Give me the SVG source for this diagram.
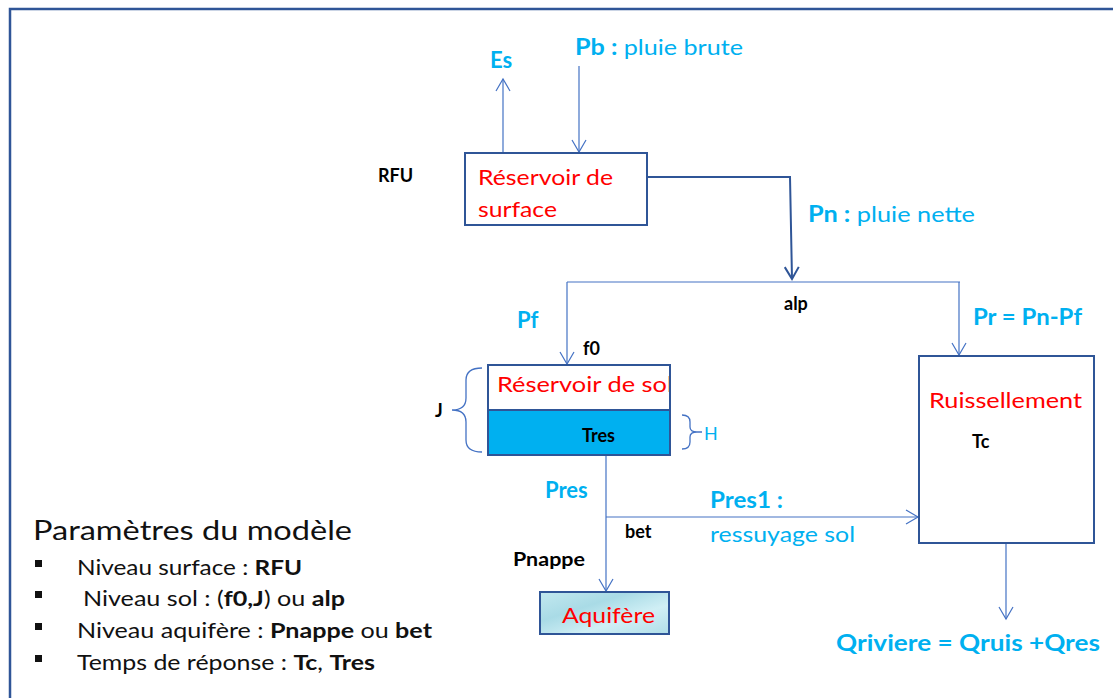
<svg xmlns="http://www.w3.org/2000/svg" width="1113" height="698" viewBox="0 0 1113 698">
<defs>
<style>
text{font-family:Lato,"Open Sans","Liberation Sans",sans-serif}
.cy{fill:#00B0F0;font-size:22px}
.b{font-weight:bold}
.red{fill:#FF0000;font-size:22px}
.blk{fill:#000;font-size:18px;font-weight:bold}
.box{fill:#fff;stroke:#2F5597;stroke-width:2}
.ln{fill:none;stroke:#4472C4;stroke-width:1.2}
.thick{fill:none;stroke:#2F5597;stroke-width:2}
.brace{fill:none;stroke:#4472C4;stroke-width:1.3}
.leg{fill:#111;font-size:21px}
</style>
<marker id="ah" viewBox="-14 -8 15 16" markerWidth="15" markerHeight="16" refX="0" refY="0" orient="auto" markerUnits="userSpaceOnUse" overflow="visible">
<path d="M-12,-7 L0,0 L-12,7" fill="none" stroke="#4472C4" stroke-width="1.2"/>
</marker>
<marker id="ahT" viewBox="-14 -8 15 16" markerWidth="15" markerHeight="16" refX="0" refY="0" orient="auto" markerUnits="userSpaceOnUse" overflow="visible">
<path d="M-12,-7 L0,0 L-12,7" fill="none" stroke="#2F5597" stroke-width="2"/>
</marker>
<linearGradient id="aq" x1="0" y1="0" x2="1" y2="1">
<stop offset="0" stop-color="#c2e8ef"/>
<stop offset="0.35" stop-color="#a9dbe6"/>
<stop offset="0.65" stop-color="#d0eff5"/>
<stop offset="1" stop-color="#b0dee8"/>
</linearGradient>
<clipPath id="solclip"><rect x="488" y="365" width="182" height="45"/></clipPath>
</defs>
<rect width="1113" height="698" fill="#fff"/>
<path d="M10,700 L10,9 L1115,9" fill="none" stroke="#2F5597" stroke-width="2.5"/>

<g id="connectors">
<line class="ln" x1="503" y1="153" x2="503" y2="79" marker-end="url(#ah)"/>
<line class="ln" x1="579" y1="66" x2="579" y2="152" marker-end="url(#ah)"/>
<polyline class="thick" points="647,177 790,177 792,279" marker-end="url(#ahT)"/>
<line class="ln" x1="567" y1="282" x2="960" y2="282"/>
<line class="ln" x1="567" y1="282" x2="567" y2="364" marker-end="url(#ah)"/>
<line class="ln" x1="959" y1="282" x2="959" y2="355" marker-end="url(#ah)"/>
<line class="ln" x1="606" y1="455" x2="606" y2="591" marker-end="url(#ah)"/>
<line class="ln" x1="606" y1="517" x2="918" y2="517" marker-end="url(#ah)"/>
<line class="ln" x1="1006" y1="543" x2="1006" y2="619" marker-end="url(#ah)"/>
</g>

<g id="labels">
<text class="cy b" x="490" y="68">Es</text>
<text class="cy" x="575" y="55" textLength="168" lengthAdjust="spacingAndGlyphs"><tspan class="b">Pb :</tspan> pluie brute</text>
<text class="blk" x="378" y="182">RFU</text>
<text class="cy" x="808" y="222" textLength="167" lengthAdjust="spacingAndGlyphs"><tspan class="b">Pn :</tspan> pluie nette</text>
<text class="blk" x="784" y="310">alp</text>
<text class="cy b" x="517" y="328">Pf</text>
<text class="cy b" x="973" y="325" textLength="109" lengthAdjust="spacingAndGlyphs">Pr = Pn-Pf</text>
<text class="blk" x="583" y="355">f0</text>
<text class="blk" x="435" y="417">J</text>
<text class="cy" x="704" y="440" style="font-size:18px">H</text>
<text class="cy b" x="545" y="498">Pres</text>
<text class="blk" x="625" y="538">bet</text>
<text class="blk" x="513" y="566" textLength="72" lengthAdjust="spacingAndGlyphs">Pnappe</text>
<text class="cy b" x="710" y="508" textLength="73" lengthAdjust="spacingAndGlyphs">Pres1 :</text>
<text class="cy" x="710" y="542" textLength="145" lengthAdjust="spacingAndGlyphs">ressuyage sol</text>
<text class="cy b" x="836" y="651" textLength="264" lengthAdjust="spacingAndGlyphs">Qriviere = Qruis +Qres</text>
</g>

<g id="reservoir-surface">
<rect class="box" x="465" y="153" width="182" height="72"/>
<text class="red" x="478" y="185" textLength="135" lengthAdjust="spacingAndGlyphs">Réservoir de</text>
<text class="red" x="478" y="217" textLength="79" lengthAdjust="spacingAndGlyphs">surface</text>
</g>

<g id="reservoir-sol">
<rect x="488" y="365" width="182" height="45" fill="#fff"/>
<rect x="488" y="410" width="182" height="45" fill="#00B0F0"/>
<text class="red" x="497" y="392" clip-path="url(#solclip)" textLength="176" lengthAdjust="spacingAndGlyphs">Réservoir de sol</text>
<text class="blk" x="582" y="442">Tres</text>
<rect x="488" y="365" width="182" height="90" fill="none" stroke="#2F5597" stroke-width="2"/>
<line x1="488" y1="410" x2="670" y2="410" stroke="#2F5597" stroke-width="2"/>
<path class="brace" d="M482,368 Q466,368 466,380 L466,398 Q466,410 452,410 Q466,410 466,422 L466,440 Q466,452 482,452"/>
<path class="brace" d="M682,415 Q690,415 690,422 L690,427 Q690,432 697,432 L702,432 M697,432 Q690,432 690,437 L690,442 Q690,449 682,449"/>
</g>

<g id="aquifere">
<rect x="540" y="592" width="129" height="42" fill="url(#aq)" stroke="#2F5597" stroke-width="2"/>
<text class="red" x="562" y="623" textLength="93" lengthAdjust="spacingAndGlyphs">Aquifère</text>
</g>

<g id="ruissellement">
<rect class="box" x="919" y="356" width="175" height="187"/>
<text class="red" x="929" y="408" textLength="153" lengthAdjust="spacingAndGlyphs">Ruissellement</text>
<text class="blk" x="972" y="448">Tc</text>
</g>

<g id="legende">
<text x="33" y="540" style="font-size:27px;fill:#111" textLength="319" lengthAdjust="spacingAndGlyphs">Paramètres du modèle</text>
<rect x="35" y="560" width="7" height="7" fill="#111"/>
<rect x="35" y="591" width="7" height="7" fill="#111"/>
<rect x="35" y="623" width="7" height="7" fill="#111"/>
<rect x="35" y="655" width="7" height="7" fill="#111"/>
<text class="leg" x="77" y="575" textLength="225" lengthAdjust="spacingAndGlyphs">Niveau surface : <tspan class="b">RFU</tspan></text>
<text class="leg" x="83" y="606" textLength="262" lengthAdjust="spacingAndGlyphs">Niveau sol : (<tspan class="b">f0,J</tspan>) ou <tspan class="b">alp</tspan></text>
<text class="leg" x="77" y="638" textLength="355" lengthAdjust="spacingAndGlyphs">Niveau aquifère : <tspan class="b">Pnappe</tspan> ou <tspan class="b">bet</tspan></text>
<text class="leg" x="77" y="670" textLength="298" lengthAdjust="spacingAndGlyphs">Temps de réponse : <tspan class="b">Tc</tspan>, <tspan class="b">Tres</tspan></text>
</g>
</svg>
